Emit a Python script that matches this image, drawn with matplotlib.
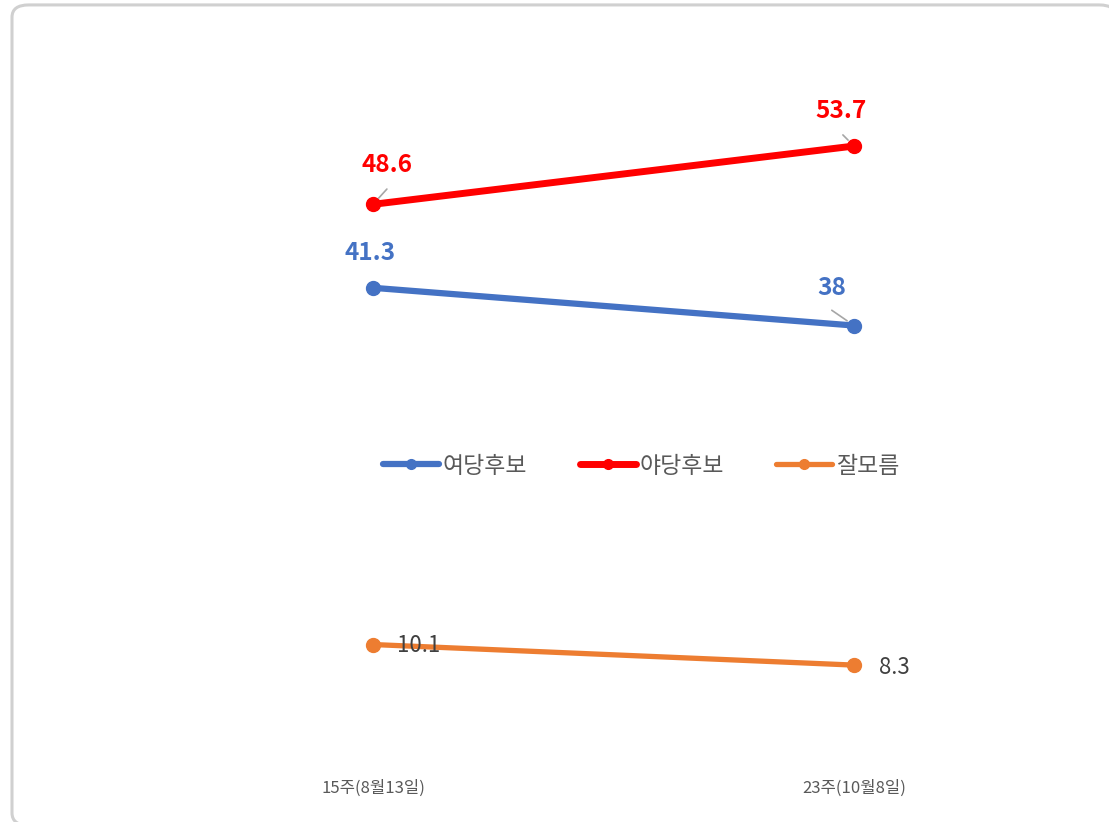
import matplotlib.pyplot as plt
from matplotlib.patches import FancyBboxPatch

plt.rcParams['font.family'] = ['Noto Sans CJK KR', 'DejaVu Sans']

# data
weeks = ['15주(8월13일)', '23주(10월8일)']
ruling = [41.3, 38]
opposition = [48.6, 53.7]
unsure = [10.1, 8.3]

BLUE = '#4472C4'
RED = '#FF0000'
ORANGE = '#ED7D31'
GRAY = '#595959'

fig = plt.figure(figsize=(11.09, 8.22), dpi=100)

# rounded frame around the chart
frame = FancyBboxPatch((12 / 1109, -0.004), (1116 - 12) / 1109, 0.998,
                       boxstyle='round,pad=0,rounding_size=0.015',
                       transform=fig.transFigure, facecolor='white',
                       edgecolor='#d0d0d0', linewidth=2.2, zorder=-5)
fig.patches.append(frame)

ax = fig.add_axes([132.5 / 1109, (822 - 760) / 822, 962 / 1109, 686 / 822])
ax.set_facecolor('none')
ax.set_zorder(2)
x = range(len(weeks))

ax.plot(x, ruling, color=BLUE, lw=4.5, marker='o', ms=10, label='여당후보',
        solid_capstyle='round')
ax.plot(x, opposition, color=RED, lw=5, marker='o', ms=10, label='야당후보',
        solid_capstyle='round')
ax.plot(x, unsure, color=ORANGE, lw=3.8, marker='o', ms=10, label='잘모름',
        solid_capstyle='round')

ax.set_xlim(-0.5, 1.5)
ax.set_ylim(0, 60)
ax.set_yticks([])
ax.set_xticks(list(x))
ax.set_xticklabels(weeks, fontsize=12, color=GRAY)
ax.tick_params(axis='x', length=0, pad=14)
for s in ax.spines.values():
    s.set_visible(False)

lead = dict(arrowstyle='-', color='#a6a6a6', lw=1.2, shrinkA=0, shrinkB=6)

# opposition labels
ax.annotate(f'{opposition[0]}', (0, opposition[0]), xytext=(10, 28), textcoords='offset points',
            ha='center', va='center', fontsize=17.5, fontweight='bold', color=RED)
ax.annotate('', (0, opposition[0]), xytext=(10, 11), textcoords='offset points', arrowprops=lead)
ax.annotate(f'{opposition[1]}', (1, opposition[1]), xytext=(-9, 25), textcoords='offset points',
            ha='center', va='center', fontsize=17.5, fontweight='bold', color=RED)
ax.annotate('', (1, opposition[1]), xytext=(-8, 8), textcoords='offset points', arrowprops=lead)

# ruling labels
ax.annotate(f'{ruling[0]}', (0, ruling[0]), xytext=(-2, 25), textcoords='offset points',
            ha='center', va='center', fontsize=17.5, fontweight='bold', color=BLUE)
ax.annotate(f'{ruling[1]:g}', (1, ruling[1]), xytext=(-16, 27), textcoords='offset points',
            ha='center', va='center', fontsize=17.5, fontweight='bold', color=BLUE)
ax.annotate('', (1, ruling[1]), xytext=(-16, 11), textcoords='offset points', arrowprops=lead)

# unsure labels
ax.annotate(f'{unsure[0]}', (0, unsure[0]), xytext=(33, -1), textcoords='offset points',
            ha='center', va='center', fontsize=16, color='#404040')
ax.annotate(f'{unsure[1]}', (1, unsure[1]), xytext=(29, -2), textcoords='offset points',
            ha='center', va='center', fontsize=16, color='#404040')

leg = fig.legend(loc='center', bbox_to_anchor=(641 / 1109, 1 - 466 / 822), ncol=3,
                 frameon=False, fontsize=16.5, handlelength=2.45, handletextpad=0.15,
                 columnspacing=2.3, labelcolor=GRAY, markerscale=0.7)

fig.savefig('out.png', dpi=100)
